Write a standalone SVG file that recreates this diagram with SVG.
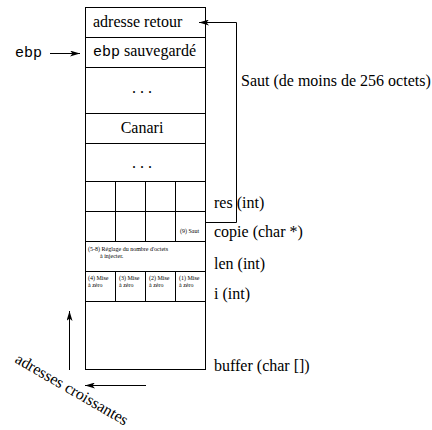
<svg xmlns="http://www.w3.org/2000/svg" width="432" height="430" viewBox="0 0 432 430">
<defs>
<style>
.ln{stroke:#000;stroke-width:1;fill:none}
.t{font-family:"Liberation Serif","Times New Roman",serif;font-size:16px;fill:#000}
.m{font-family:"Liberation Mono","Courier New",monospace;font-size:15px;fill:#000}
.s{font-family:"Liberation Serif","Times New Roman",serif;font-size:6px;fill:#000}
</style>
<marker id="ah" viewBox="0 0 10 6" refX="10" refY="3" markerWidth="10" markerHeight="6" markerUnits="userSpaceOnUse" orient="auto">
<path d="M0,0 L10,3 L0,6 L2.5,3 Z" fill="#000"/>
</marker>
</defs>
<rect width="432" height="430" fill="#fff"/>
<g id="stack">
<rect class="ln" x="85.5" y="7.5" width="120" height="362"/>
<path class="ln" d="M85.5,37.5H205.5M85.5,67.5H205.5M85.5,113.5H205.5M85.5,143.5H205.5M85.5,181.5H205.5M85.5,211.5H205.5M85.5,241.5H205.5M85.5,271.5H205.5M85.5,301.5H205.5"/>
<path class="ln" d="M115.5,181.5V241.5M145.5,181.5V241.5M175.5,181.5V241.5M115.5,271.5V301.5M145.5,271.5V301.5M175.5,271.5V301.5"/>
</g>
<g id="cell-retour"><text class="t" x="93" y="27">adresse retour</text></g>
<g id="cell-ebp"><text x="93" y="56"><tspan class="m">ebp</tspan><tspan class="t"> sauvegardé</tspan></text></g>
<g id="cell-dots1"><text class="t" x="142" y="93" text-anchor="middle">. . .</text></g>
<g id="cell-canari"><text class="t" x="142" y="133" text-anchor="middle">Canari</text></g>
<g id="cell-dots2"><text class="t" x="142" y="168" text-anchor="middle">. . .</text></g>
<g id="cell-saut"><text class="s" x="180" y="233">(9) Saut</text></g>
<g id="cell-reglage"><text class="s" x="88" y="251">(5-8) Réglage du nombre d'octets</text><text class="s" x="100" y="258">à injecter.</text></g>
<g id="cell-mise4"><text class="s" x="88" y="280">(4) Mise</text><text class="s" x="88" y="287">à zéro</text></g>
<g id="cell-mise3"><text class="s" x="119" y="280">(3) Mise</text><text class="s" x="119" y="287">à zéro</text></g>
<g id="cell-mise2"><text class="s" x="149" y="280">(2) Mise</text><text class="s" x="149" y="287">à zéro</text></g>
<g id="cell-mise1"><text class="s" x="179" y="280">(1) Mise</text><text class="s" x="179" y="287">à zéro</text></g>
<g id="labels">
<text class="m" x="15" y="57">ebp</text>
<text class="t" x="241" y="86">Saut (de moins de 256 octets)</text>
<text class="t" x="214" y="208">res (int)</text>
<text class="t" x="214" y="237">copie (char *)</text>
<text class="t" x="214" y="269">len (int)</text>
<text class="t" x="214" y="299">i (int)</text>
<text class="t" x="214" y="371">buffer (char [])</text>
<text class="t" x="14" y="362" transform="rotate(30 14 362)">adresses croissantes</text>
</g>
<g id="connectors">
<path class="ln" d="M50,53.5H80" marker-end="url(#ah)"/>
<path class="ln" d="M205.5,222.5H236.5V22.5H199" marker-end="url(#ah)"/>
<path class="ln" d="M69.5,370V311" marker-end="url(#ah)"/>
<path class="ln" d="M146,385.5H85" marker-end="url(#ah)"/>
</g>
</svg>
